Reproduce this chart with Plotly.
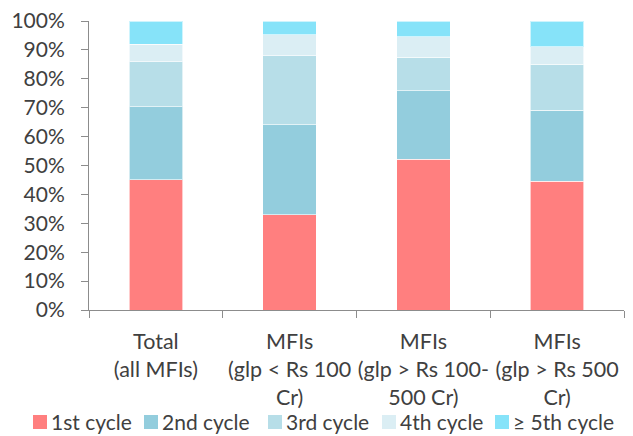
import plotly.graph_objects as go

categories = [
    "Total<br>(all MFIs)",
    "MFIs<br>(glp &lt; Rs 100<br>Cr)",
    "MFIs<br>(glp &gt; Rs 100-<br>500 Cr)",
    "MFIs<br>(glp &gt; Rs 500<br>Cr)",
]

cycle_1 = [45.0, 32.9, 52.2, 44.6]
cycle_2 = [25.4, 31.2, 23.7, 24.6]
cycle_3 = [15.5, 23.9, 11.6, 15.9]
cycle_4 = [6.1, 7.2, 7.1, 6.0]
cycle_5 = [8.0, 4.8, 5.4, 8.9]

series_names = ["1st cycle", "2nd cycle", "3rd cycle", "4th cycle", "≥ 5th cycle"]
series_values = [cycle_1, cycle_2, cycle_3, cycle_4, cycle_5]
series_colors = ["#FF7F7F", "#93CDDD", "#B7DEE8", "#DBEEF4", "#86E3F9"]

# figure geometry (pixels)
W, H = 633, 436
ML, MR, MT, MB = 89, 9, 21, 126
PW, PH = W - ML - MR, H - MT - MB

font_family = "Lato, 'Open Sans', sans-serif"
text_color = "#404040"
axis_color = "#8C8C8C"

fig = go.Figure()
for name, vals, color in zip(series_names, series_values, series_colors):
    fig.add_trace(go.Bar(
        x=categories,
        y=[v / 100 for v in vals],
        name=name,
        showlegend=False,
        marker=dict(color=color, line=dict(color="rgba(255,255,255,0.6)", width=1)),
    ))


def px_x(px):
    return (px - ML) / PW


def px_y(py):
    return (H - MB - py) / PH


# legend row drawn as swatches + labels, kept inside the page bottom
swatch_left = [33, 144, 268, 382, 495]
swatch_size = 14
swatch_top = 415
legend_bottom = 435.5
shapes = []
annotations = []
for name, color, sx in zip(series_names, series_colors, swatch_left):
    shapes.append(dict(
        type="rect", xref="paper", yref="paper",
        x0=px_x(sx), x1=px_x(sx + swatch_size),
        y0=px_y(swatch_top + swatch_size), y1=px_y(swatch_top),
        fillcolor=color, line=dict(width=0),
    ))
    annotations.append(dict(
        xref="paper", yref="paper",
        x=px_x(sx + swatch_size + 2), y=px_y(legend_bottom),
        xanchor="left", yanchor="bottom",
        text=name, showarrow=False,
        font=dict(family=font_family, size=21, color=text_color),
    ))

fig.update_layout(
    barmode="stack",
    bargap=0.6,
    width=W,
    height=H,
    margin=dict(l=ML, r=MR, t=MT, b=MB, autoexpand=False),
    paper_bgcolor="white",
    plot_bgcolor="white",
    font=dict(family=font_family, size=22, color=text_color),
    showlegend=False,
    shapes=shapes,
    annotations=annotations,
    xaxis=dict(
        showline=True,
        linecolor=axis_color,
        linewidth=1,
        ticks="outside",
        tickson="boundaries",
        ticklen=7,
        tickcolor=axis_color,
        tickangle=0,
        showgrid=False,
        automargin=False,
        ticklabelstandoff=12,
        tickfont=dict(size=21.5, color=text_color),
    ),
    yaxis=dict(
        range=[0, 1],
        tickformat=".0%",
        dtick=0.1,
        showline=True,
        linecolor=axis_color,
        linewidth=1,
        ticks="outside",
        ticklen=7,
        tickcolor=axis_color,
        showgrid=False,
        zeroline=False,
        automargin=False,
        ticklabelstandoff=12,
        tickfont=dict(size=21, color=text_color),
    ),
)

fig.write_html("out.html")
